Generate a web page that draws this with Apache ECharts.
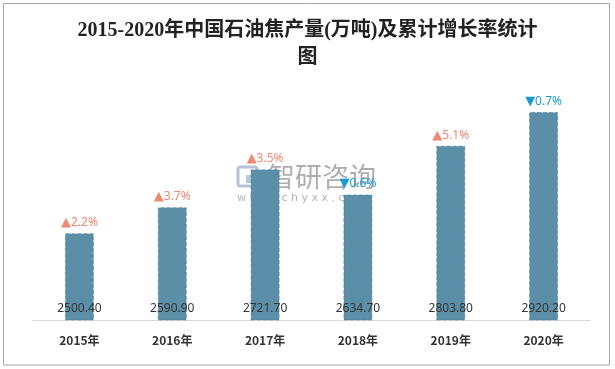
<!DOCTYPE html>
<html>
<head>
<meta charset="utf-8">
<script src="https://cdn.jsdelivr.net/npm/echarts@6/dist/echarts.min.js"></script>
<style>html,body{margin:0;padding:0;background:#fff}#c{width:615px;height:369px}</style>
</head>
<body>
<div id="c"></div>
<script>
const categories = ['2015年', '2016年', '2017年', '2018年', '2019年', '2020年'];
const output = [2500.40, 2590.90, 2721.70, 2634.70, 2803.80, 2920.20];
const growth = [2.2, 3.7, 3.5, -0.6, 5.1, -0.7];
const titleText = '2015-2020年中国石油焦产量(万吨)及累计增长率统计\n图';

const chart = echarts.init(document.getElementById('c'), null, {renderer: 'canvas'});
chart.setOption({
  animation: false,
  backgroundColor: '#fff',
  title: {
    text: titleText,
    left: 'center',
    top: 12,
    textStyle: {
      fontFamily: "'Liberation Serif','Noto Sans CJK SC',serif",
      fontSize: 20,
      fontWeight: 'bold',
      color: '#222',
      lineHeight: 27
    }
  },
  grid: {left: 33, right: 25, top: 89, bottom: 49},
  xAxis: {
    type: 'category',
    data: categories,
    axisLine: {lineStyle: {color: '#d9d9d9', width: 1}},
    axisTick: {show: false},
    axisLabel: {
      margin: 14,
      color: '#333',
      fontSize: 12,
      fontWeight: 'bold',
      fontFamily: "'Noto Sans CJK SC','Noto Sans',sans-serif"
    }
  },
  yAxis: {
    type: 'value',
    min: 2200,
    max: 3000,
    show: false,
    splitLine: {show: false}
  },
  series: [
    {
      type: 'bar',
      data: output,
      barWidth: 29,
      itemStyle: {color: '#5b8fa7', borderColor: 'rgba(75,120,145,0.55)', borderWidth: 1, borderType: 'dashed'},
      label: {
        show: true,
        position: 'insideBottom',
        distance: 6,
        color: '#333',
        fontSize: 12,
        fontFamily: "'Noto Sans',sans-serif",
        formatter: p => p.value.toFixed(2)
      }
    },
    {
      type: 'bar',
      data: output,
      barWidth: 29,
      barGap: '-100%',
      silent: true,
      itemStyle: {color: 'rgba(0,0,0,0)'},
      label: {
        show: true,
        position: 'top',
        distance: 4,
        formatter: p => {
          const g = growth[p.dataIndex];
          return g >= 0 ? '{ua|▲}{ut|' + g.toFixed(1) + '%}' : '{da|▼}{dt|' + Math.abs(g).toFixed(1) + '%}';
        },
        rich: {
          ua: {color: '#ef8a72', fontSize: 13, fontFamily: "'DejaVu Sans',sans-serif"},
          ut: {color: '#ef8a72', fontSize: 12, fontFamily: "'Noto Sans',sans-serif"},
          da: {color: '#1a9ad6', fontSize: 13, fontFamily: "'DejaVu Sans',sans-serif"},
          dt: {color: '#1a9ad6', fontSize: 12, fontFamily: "'Noto Sans',sans-serif"}
        }
      }
    }
  ],
  graphic: [
    {
      type: 'rect',
      silent: true,
      shape: {x: 3.5, y: 3.5, width: 606, height: 361.5},
      style: {fill: 'none', stroke: '#a6a6a6', lineWidth: 1}
    },
    {
      type: 'group',
      silent: true,
      z: 100,
      children: [
        {type: 'rect', shape: {x: 238, y: 167, width: 19, height: 19, r: 2},
         style: {fill: 'none', stroke: 'rgba(150,170,195,0.7)', lineWidth: 3}},
        {type: 'rect', shape: {x: 246, y: 175, width: 8, height: 8},
         style: {fill: 'rgba(150,175,205,0.7)'}},
        {type: 'text', style: {x: 268, y: 177, text: '智研咨询', textVerticalAlign: 'middle',
          font: "27px 'Noto Sans CJK SC',sans-serif", fill: 'rgba(140,140,140,0.7)'}},
        {type: 'text', style: {x: 237, y: 198, text: 'w w w . c h y x x . c o m', textVerticalAlign: 'middle',
          font: "11px 'DejaVu Sans',sans-serif", fill: 'rgba(150,150,150,0.7)'}}
      ]
    }
  ]
});
</script>
</body>
</html>
